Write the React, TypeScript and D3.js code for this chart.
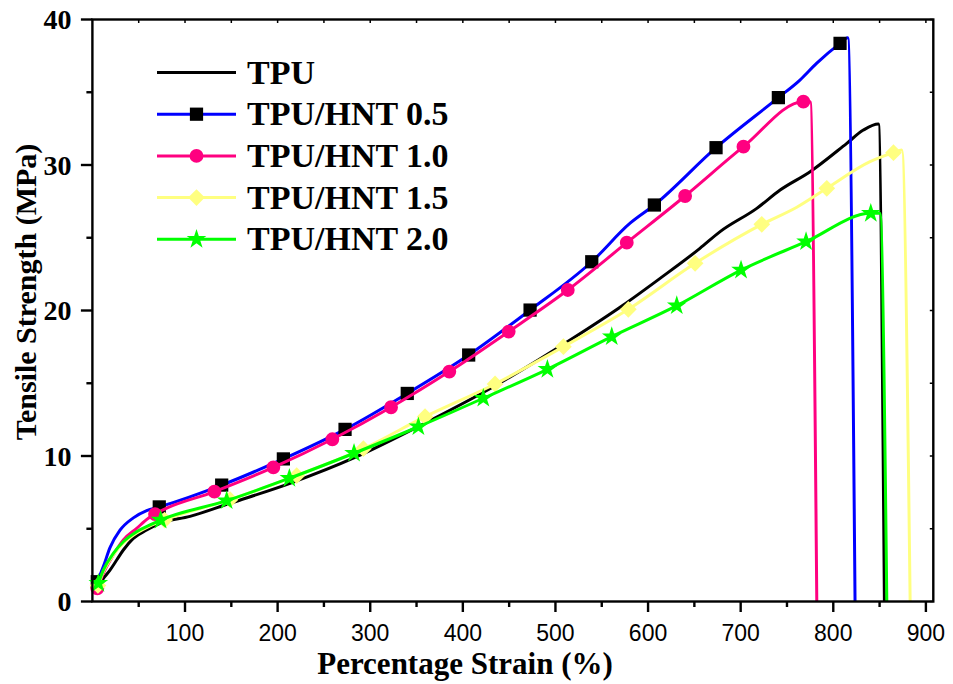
import React from "react";
import * as d3 from "d3";

// Stress–strain curves: [strain %, tensile strength MPa]
const tpuCurve: [number, number][] = [
  [6.4, 1.13], [12, 1.6], [19, 2.16], [26.2, 2.85], [33.4, 3.54], [44.2, 4.34], [58.6, 4.91],
  [73, 5.37], [105.4, 5.85], [148.6, 6.75], [213.4, 8.12], [285.4, 9.95], [357.3, 12.2],
  [433, 14.76], [515.8, 17.97], [573.3, 20.38], [613, 22.21], [656, 24.27], [677.8, 25.42],
  [717.4, 27.02], [742.6, 28.28], [775, 29.54], [814.6, 31.49], [832.5, 32.4], [848.7, 32.82],
  [855.2, 0],
];
const hnt05Curve: [number, number][] = [
  [5.3, 1.36], [11.8, 2.4], [19, 3.7], [29.8, 4.9], [44.2, 5.75], [58.6, 6.25], [72.2, 6.5],
  [139.6, 8.0], [206.2, 9.8], [272.8, 11.83], [340, 14.3], [406.3, 16.94], [472.6, 20.03],
  [539.2, 23.35], [580.6, 26.0], [606.8, 27.25], [673.4, 31.19], [740.7, 34.63], [764, 35.84],
  [782.2, 37.0], [807.3, 38.36], [815.6, 38.75], [823.5, 0],
];
const hnt10Curve: [number, number][] = [
  [5.3, 0.9], [11.8, 1.94], [22.6, 3.2], [33.4, 4.23], [47.8, 5.03], [60.4, 5.72], [67.6, 6.01],
  [131.7, 7.55], [195.4, 9.22], [259.1, 11.15], [322.5, 13.35], [385.4, 15.8], [449.5, 18.55],
  [513.3, 21.41], [577, 24.66], [640, 27.87], [703, 31.26], [767.7, 34.35], [775, 34.35],
  [782.2, 0],
];
const hnt15Curve: [number, number][] = [
  [6, 1.1], [11.8, 2.05], [22.6, 3.2], [33.4, 4.0], [47.8, 4.7], [62.2, 5.2], [78, 5.6],
  [148.6, 7.0], [220.6, 8.65], [292.6, 10.5], [359.2, 12.7], [434.8, 14.95], [508.6, 17.51],
  [578.7, 20.08], [650.8, 23.24], [722.8, 25.92], [760.6, 27.1], [793, 28.4], [839.7, 30.23],
  [865, 30.85], [874, 31.03], [883, 0],
];
const hnt20Curve: [number, number][] = [
  [6.4, 1.25], [11.8, 2.16], [22.6, 3.31], [33.4, 4.11], [47.8, 4.8], [62.2, 5.26], [73.7, 5.6],
  [145, 6.93], [212.7, 8.47], [282.5, 10.19], [352, 12.01], [422.1, 13.97], [491.3, 15.96],
  [560.8, 18.2], [631, 20.33], [700.4, 22.78], [770.6, 24.73], [840.5, 26.68], [850.5, 26.68],
  [857.8, 0],
];

// Symbol positions along each filled curve
const hnt05Markers: [number, number][] = [
  [5.3, 1.36], [72.2, 6.5], [139.6, 8.0], [206.2, 9.8], [272.8, 11.83], [340, 14.3],
  [406.3, 16.94], [472.6, 20.03], [539.2, 23.35], [606.8, 27.25], [673.4, 31.19],
  [740.7, 34.63], [807.3, 38.36],
];
const hnt10Markers: [number, number][] = [
  [5.3, 0.9], [67.6, 6.01], [131.7, 7.55], [195.4, 9.22], [259.1, 11.15], [322.5, 13.35],
  [385.4, 15.8], [449.5, 18.55], [513.3, 21.41], [577, 24.66], [640, 27.87], [703, 31.26],
  [767.7, 34.35],
];
const hnt15Markers: [number, number][] = [
  [6, 1.1], [78, 5.6], [148.6, 7.0], [220.6, 8.65], [292.6, 10.5], [359.2, 12.7],
  [434.8, 14.95], [508.6, 17.51], [578.7, 20.08], [650.8, 23.24], [722.8, 25.92],
  [793, 28.4], [865, 30.85],
];
const hnt20Markers: [number, number][] = [
  [6.4, 1.25], [73.7, 5.6], [145, 6.93], [212.7, 8.47], [282.5, 10.19], [352, 12.01],
  [422.1, 13.97], [491.3, 15.96], [560.8, 18.2], [631, 20.33], [700.4, 22.78],
  [770.6, 24.73], [840.5, 26.68],
];

const seriesNames = ["TPU", "TPU/HNT 0.5", "TPU/HNT 1.0", "TPU/HNT 1.5", "TPU/HNT 2.0"];
const seriesColors = ["#000000", "#0000FF", "#FF0080", "#FFFF80", "#00FF00"];
const markerFills = ["", "#000000", "#FF0080", "#FFFF80", "#00FF00"];
const markerKinds = ["none", "square", "circle", "diamond", "star"];
const seriesCurves = [tpuCurve, hnt05Curve, hnt10Curve, hnt15Curve, hnt20Curve];
const seriesMarkers = [[], hnt05Markers, hnt10Markers, hnt15Markers, hnt20Markers];

const xMajorTicks = [100, 200, 300, 400, 500, 600, 700, 800, 900];
const xMinorTicks = [50, 150, 250, 350, 450, 550, 650, 750, 850];
const yMajorTicks = [0, 10, 20, 30, 40];
const yMinorTicks = [5, 15, 25, 35];

const xTitle = "Percentage Strain (%)";
const yTitle = "Tensile Strength (MPa)";

const W = 953;
const H = 684;
const plot = { left: 92.4, right: 933.3, top: 19.5, bottom: 601.5 };

const x = d3.scaleLinear().domain([0, 908]).range([plot.left, plot.right]);
const y = d3.scaleLinear().domain([0, 40]).range([plot.bottom, plot.top]);

const line = d3
  .line<[number, number]>()
  .x((d) => x(d[0]))
  .y((d) => y(d[1]))
  .curve(d3.curveMonotoneX);

function symbolPath(kind: string): string {
  switch (kind) {
    case "square":
      return d3.symbol(d3.symbolSquare, 175)() || "";
    case "circle":
      return d3.symbol(d3.symbolCircle, 150)() || "";
    case "diamond":
      return d3.symbol(d3.symbolSquare, 140)() || "";
    case "star":
      return d3.symbol(d3.symbolStar, 120)() || "";
    default:
      return "";
  }
}

function Marker({ kind, fill, cx, cy }: { kind: string; fill: string; cx: number; cy: number }) {
  if (kind === "none") return null;
  const rot = kind === "diamond" ? " rotate(45)" : "";
  return <path d={symbolPath(kind)} fill={fill} transform={`translate(${cx},${cy})${rot}`} />;
}

const serif = "'Liberation Serif', 'Times New Roman', serif";
const sans = "'Liberation Sans', Arial, sans-serif";

export default function App() {
  const axisW = 2.4;
  const curveW = 3;
  const legendX0 = 157;
  const legendX1 = 236;
  const legendY0 = 72.5;
  const legendStep = 41.7;

  return (
    <svg
      width={W}
      height={H}
      viewBox={`0 0 ${W} ${H}`}
      style={{ position: "absolute", left: 0, top: 0, background: "#fff" }}
    >
      <rect x={0} y={0} width={W} height={H} fill="#fff" />

      {/* curves with their symbols */}
      {seriesCurves.map((c, i) => (
        <g key={seriesNames[i]}>
          <path d={line(c) || ""} fill="none" stroke={seriesColors[i]} strokeWidth={curveW} strokeLinejoin="round" />
          {seriesMarkers[i].map((m, j) => (
            <Marker key={j} kind={markerKinds[i]} fill={markerFills[i]} cx={x(m[0])} cy={y(m[1])} />
          ))}
        </g>
      ))}

      {/* frame */}
      <rect
        x={plot.left}
        y={plot.top}
        width={plot.right - plot.left}
        height={plot.bottom - plot.top}
        fill="none"
        stroke="#000"
        strokeWidth={axisW}
      />

      {/* bottom axis ticks */}
      {xMajorTicks.map((t) => (
        <g key={"xM" + t}>
          <line x1={x(t)} x2={x(t)} y1={plot.bottom} y2={plot.bottom + 10.5} stroke="#000" strokeWidth={axisW} />
          <line x1={x(t)} x2={x(t)} y1={plot.top} y2={plot.top + 3.5} stroke="#000" strokeWidth={1.5} />
          <text x={x(t)} y={641} textAnchor="middle" fontFamily={sans} fontSize={23} fill="#000">
            {t}
          </text>
        </g>
      ))}
      {xMinorTicks.map((t) => (
        <g key={"xm" + t}>
          <line x1={x(t)} x2={x(t)} y1={plot.bottom} y2={plot.bottom + 5.5} stroke="#000" strokeWidth={axisW} />
          <line x1={x(t)} x2={x(t)} y1={plot.top} y2={plot.top + 3.5} stroke="#000" strokeWidth={1.5} />
        </g>
      ))}

      {/* left axis ticks */}
      {yMajorTicks.map((t) => (
        <g key={"yM" + t}>
          <line x1={plot.left - 11.5} x2={plot.left} y1={y(t)} y2={y(t)} stroke="#000" strokeWidth={axisW} />
          <line x1={plot.right - 3.5} x2={plot.right} y1={y(t)} y2={y(t)} stroke="#000" strokeWidth={1.5} />
          <text
            x={71.5}
            y={y(t)}
            dy="0.35em"
            textAnchor="end"
            fontFamily={serif}
            fontWeight="bold"
            fontSize={28}
            fill="#000"
          >
            {t}
          </text>
        </g>
      ))}
      {yMinorTicks.map((t) => (
        <g key={"ym" + t}>
          <line x1={plot.left - 6} x2={plot.left} y1={y(t)} y2={y(t)} stroke="#000" strokeWidth={axisW} />
          <line x1={plot.right - 3.5} x2={plot.right} y1={y(t)} y2={y(t)} stroke="#000" strokeWidth={1.5} />
        </g>
      ))}

      {/* axis titles */}
      <text
        x={465}
        y={674}
        textAnchor="middle"
        fontFamily={serif}
        fontWeight="bold"
        fontSize={31}
        fill="#000"
      >
        {xTitle}
      </text>
      <text
        transform={`translate(36,${292}) rotate(-90)`}
        textAnchor="middle"
        fontFamily={serif}
        fontWeight="bold"
        fontSize={30}
        fill="#000"
      >
        {yTitle}
      </text>

      {/* legend */}
      {seriesNames.map((name, i) => {
        const ly = legendY0 + i * legendStep;
        return (
          <g key={"lg" + name}>
            <line x1={legendX0} x2={legendX1} y1={ly} y2={ly} stroke={seriesColors[i]} strokeWidth={curveW} />
            <Marker kind={markerKinds[i]} fill={markerFills[i]} cx={(legendX0 + legendX1) / 2} cy={ly} />
            <text
              x={247}
              y={ly + 11}
              fontFamily={serif}
              fontWeight="bold"
              fontSize={34}
              fill="#000"
            >
              {name}
            </text>
          </g>
        );
      })}
    </svg>
  );
}
